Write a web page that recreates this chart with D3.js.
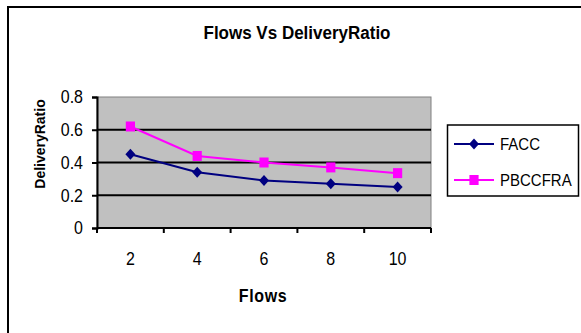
<!DOCTYPE html>
<html>
<head>
<meta charset="utf-8">
<script src="https://cdn.jsdelivr.net/npm/d3@7"></script>
<style>
  html, body { margin: 0; padding: 0; background: #fff; }
  svg { display: block; font-family: "Liberation Sans", Arial, sans-serif; }
</style>
</head>
<body>
<svg id="chart" width="581" height="333"></svg>
<script>
// Flow counts on the x axis
const flows = ["2", "4", "6", "8", "10"];
// Delivery ratio per flow count
const facc = [0.45, 0.34, 0.29, 0.27, 0.25];
const pbccfra = [0.62, 0.44, 0.40, 0.37, 0.335];
// Y axis ticks
const yTicks = [0, 0.2, 0.4, 0.6, 0.8];

const series = [
  { name: "FACC", values: facc, color: "#000080", shape: "diamond" },
  { name: "PBCCFRA", values: pbccfra, color: "#FF00FF", shape: "square" }
];

const svg = d3.select("#chart");
const plot = { left: 97, right: 431, top: 97, bottom: 228 };
const stretch = 1.15; // glyphs are drawn slightly taller than wide

const x = d3.scaleBand().domain(flows).range([plot.left, plot.right]).padding(0);
const y = d3.scaleLinear().domain([0, 0.8]).range([plot.bottom, plot.top]);

// Outer frame (only top and left edges show inside the window)
svg.append("rect")
  .attr("x", 8).attr("y", 7)
  .attr("width", 600).attr("height", 360)
  .attr("fill", "#fff").attr("stroke", "#000").attr("stroke-width", 2);

// Title
svg.append("text")
  .attr("transform", `translate(297,39) scale(1,1.05)`)
  .attr("text-anchor", "middle")
  .attr("font-size", 17).attr("font-weight", "bold")
  .text("Flows Vs DeliveryRatio");

// Plot background
svg.append("rect")
  .attr("x", plot.left).attr("y", plot.top)
  .attr("width", plot.right - plot.left).attr("height", plot.bottom - plot.top)
  .attr("fill", "#C0C0C0").attr("stroke", "#808080").attr("stroke-width", 1);

// Horizontal gridlines
svg.append("g").selectAll("line")
  .data(yTicks.filter(d => d > 0 && d < 0.8))
  .join("line")
  .attr("x1", plot.left).attr("x2", plot.right)
  .attr("y1", d => y(d)).attr("y2", d => y(d))
  .attr("stroke", "#000").attr("stroke-width", 2);

// Y axis
const yAxis = svg.append("g")
  .attr("transform", `translate(${plot.left},0)`)
  .call(d3.axisLeft(y).tickValues(yTicks).tickFormat(d => d === 0 ? "0" : d3.format(".1f")(d)).tickSize(5).tickPadding(9));
yAxis.select(".domain").attr("stroke", "#000").attr("stroke-width", 2);
yAxis.selectAll(".tick line").attr("stroke", "#000").attr("stroke-width", 2);
yAxis.selectAll(".tick text")
  .attr("font-family", "Liberation Sans, Arial, sans-serif")
  .attr("font-size", 16).attr("fill", "#000")
  .attr("transform", `scale(1,${stretch})`);

// X axis with ticks at category boundaries
const xAxis = svg.append("g")
  .attr("transform", `translate(0,${plot.bottom})`);
xAxis.append("line")
  .attr("x1", plot.left).attr("x2", plot.right)
  .attr("y1", 0).attr("y2", 0)
  .attr("stroke", "#000").attr("stroke-width", 2);
const bounds = flows.map(d => x(d)).concat([x(flows[flows.length - 1]) + x.bandwidth()]);
xAxis.selectAll("line.tk")
  .data(bounds)
  .join("line").attr("class", "tk")
  .attr("x1", d => d).attr("x2", d => d)
  .attr("y1", 0).attr("y2", 5)
  .attr("stroke", "#000").attr("stroke-width", 2);
xAxis.selectAll("text")
  .data(flows)
  .join("text")
  .attr("transform", d => `translate(${x(d) + x.bandwidth() / 2},37) scale(1,${stretch})`)
  .attr("text-anchor", "middle")
  .attr("font-size", 16)
  .text(d => d);

// Axis titles
svg.append("text")
  .attr("transform", `translate(263,302) scale(1,1.18)`)
  .attr("text-anchor", "middle")
  .attr("font-size", 16).attr("font-weight", "bold")
  .attr("letter-spacing", 0.6)
  .text("Flows");

svg.append("text")
  .attr("transform", "translate(45,144) rotate(-90) scale(1,1.05)")
  .attr("text-anchor", "middle")
  .attr("font-size", 14).attr("font-weight", "bold")
  .text("DeliveryRatio");

// Series lines and markers
const line = d3.line()
  .x((d, i) => x(flows[i]) + x.bandwidth() / 2)
  .y(d => y(d));

const markerPath = s => s.shape === "diamond"
  ? "M0,-5.5L5,0L0,5.5L-5,0Z"
  : "M-4.6,-5L4.6,-5L4.6,5L-4.6,5Z";

series.forEach(s => {
  svg.append("path")
    .datum(s.values)
    .attr("d", line)
    .attr("fill", "none")
    .attr("stroke", s.color).attr("stroke-width", 2);
  svg.append("g").selectAll("path")
    .data(s.values)
    .join("path")
    .attr("d", markerPath(s))
    .attr("transform", (d, i) => `translate(${x(flows[i]) + x.bandwidth() / 2},${y(d)})`)
    .attr("fill", s.color);
});

// Legend
const legend = svg.append("g");
legend.append("rect")
  .attr("x", 447.5).attr("y", 125)
  .attr("width", 131).attr("height", 71)
  .attr("fill", "#fff").attr("stroke", "#000").attr("stroke-width", 1.5);
const legendY = [144, 180];
series.forEach((s, i) => {
  const ly = legendY[i];
  legend.append("line")
    .attr("x1", 454).attr("x2", 494)
    .attr("y1", ly).attr("y2", ly)
    .attr("stroke", s.color).attr("stroke-width", 2);
  legend.append("path")
    .attr("d", markerPath(s))
    .attr("transform", `translate(474,${ly})`)
    .attr("fill", s.color);
  legend.append("text")
    .attr("transform", `translate(500,${ly + 6}) scale(1,1.15)`)
    .attr("font-size", 15)
    .text(s.name);
});
</script>
</body>
</html>
